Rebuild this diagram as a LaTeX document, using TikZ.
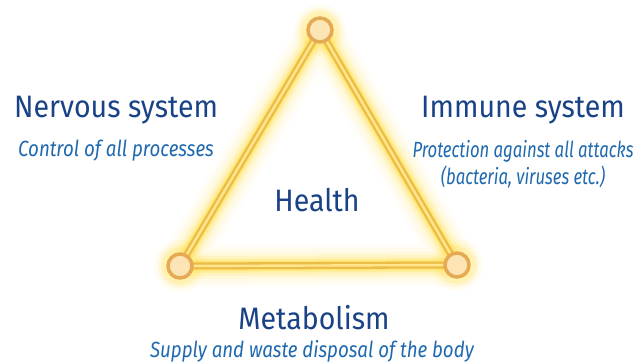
\documentclass[tikz,border=0pt]{standalone}
\usepackage{fontspec}
\setmainfont{Fira Sans}
\newfontfamily\narrowfont[FakeStretch=0.92]{Fira Sans}
\newfontfamily\narrowitfont[FakeStretch=0.85,UprightFont=* Italic]{Fira Sans}
\newfontfamily\tightitfont[FakeStretch=0.76,UprightFont=* Italic]{Fira Sans}
\usepackage{xcolor}
\usepackage{tikz}
\usetikzlibrary{positioning}
\definecolor{titleclr}{RGB}{25,66,135}
\definecolor{subclr}{RGB}{30,105,175}
\definecolor{glowclr}{RGB}{255,226,80}
\definecolor{barclr}{RGB}{236,188,72}
\definecolor{coreclr}{RGB}{255,230,140}
\definecolor{ringclr}{RGB}{230,170,85}
\definecolor{knobclr}{RGB}{252,228,180}
\tikzset{
    title/.style={text=titleclr,font=\narrowfont\fontsize{31}{34}\selectfont,inner sep=0pt},
    subtitle/.style={text=subclr,font=\narrowitfont\fontsize{22}{26}\selectfont,
                     inner sep=0pt,align=center},
    tightsub/.style={subtitle,font=\tightitfont\fontsize{22}{27}\selectfont},
    knob/.style={circle,draw=ringclr,line width=3.5pt,fill=knobclr,
                 minimum size=24pt,inner sep=0pt},
    halo/.style={circle,fill=glowclr,inner sep=0pt},
}
\begin{document}
\begin{tikzpicture}[x=1pt,y=1pt]
\useasboundingbox[fill=white] (0,0) rectangle (634,363);
\coordinate (Top)   at (320,333);
\coordinate (Left)  at (180,97);
\coordinate (Right) at (457,98);

% glow round the triangle
\foreach \w/\o in {42/0.05,34/0.07,26/0.11,20/0.17,14/0.3,10/0.5}
  \draw[glowclr,line width=\w pt,opacity=\o,line join=round,line cap=round]
    (Top) -- (Left) -- (Right) -- cycle;
\foreach \p in {Top,Left,Right}
  \foreach \s/\o in {52/0.08,44/0.12,38/0.2}
    \node[halo,minimum size=\s pt,opacity=\o] at (\p) {};

% golden bars
\draw[barclr,line width=7pt,line join=round] (Top) -- (Left) -- (Right) -- cycle;
\draw[coreclr,line width=2.4pt,line join=round] (Top) -- (Left) -- (Right) -- cycle;

% knobs
\node[knob] (kT) at (Top) {};
\node[knob] (kL) at (Left) {};
\node[knob] (kR) at (Right) {};

\node[title] (health) at (317,163) {Health};

\node[title] (nerv) at (116,253) {Nervous system};
\node[subtitle] (nervsub) at (116,212) {Control of all processes};

\node[title] (imm) at (523,253) {Immune system};
\node[tightsub] (immsub) at (523,199) {Protection against all attacks\\(bacteria, viruses etc.)};

\node[title] (meta) at (314,45) {Metabolism};
\node[subtitle] (metasub) at (312,12) {Supply and waste disposal of the body};
\end{tikzpicture}
\end{document}
